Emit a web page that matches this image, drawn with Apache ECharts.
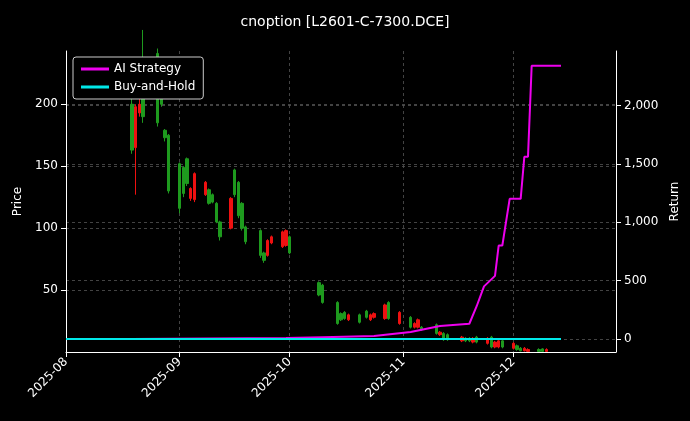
<!DOCTYPE html>
<html><head><meta charset="utf-8">
<script src="https://cdn.jsdelivr.net/npm/echarts@6/dist/echarts.min.js"></script>
<style>html,body{margin:0;background:#000}#c{width:690px;height:421px}</style>
</head><body><div id="c"></div>
<script>
// [date, open, close, low, high]
const candles = [
 ['2025-08-19',163,200,160,215],
 ['2025-08-20',198,165,127,200],
 ['2025-08-21',200,193,190,205],
 ['2025-08-22',190,230,185,260],
 ['2025-08-26',185,241,182,245],
 ['2025-08-27',200,210,198,212],
 ['2025-08-28',173,179,170,180],
 ['2025-08-29',130,175,128,176],
 ['2025-09-01',116,152,112,153],
 ['2025-09-02',128,149,125,150],
 ['2025-09-03',136,156,134,157],
 ['2025-09-04',132,124,122,133],
 ['2025-09-05',144,123,121,145],
 ['2025-09-08',137,127,126,138],
 ['2025-09-09',120,131,119,132],
 ['2025-09-10',121,127,120,128],
 ['2025-09-11',105,120,104,121],
 ['2025-09-12',93,105,90,106],
 ['2025-09-15',124,100,99,125],
 ['2025-09-16',127,147,125,148],
 ['2025-09-17',110,137,108,138],
 ['2025-09-18',100,120,98,121],
 ['2025-09-19',89,101,87,102],
 ['2025-09-23',78,98,76,99],
 ['2025-09-24',74,80,72,81],
 ['2025-09-25',90,78,77,91],
 ['2025-09-26',93,88,87,94],
 ['2025-09-29',97,85,84,98],
 ['2025-09-30',98,86,85,99],
 ['2025-10-01',80,93,79,94],
 ['2025-10-09',46,56,45,57],
 ['2025-10-10',40,54,39,55],
 ['2025-10-14',23,40,22,41],
 ['2025-10-15',26,31,25,32],
 ['2025-10-16',27,32,26,33],
 ['2025-10-17',30,26,25,31],
 ['2025-10-20',24,30,23,31],
 ['2025-10-22',28,33,27,34],
 ['2025-10-23',30,26,25,31],
 ['2025-10-24',31,28,27,32],
 ['2025-10-27',38,27,26,39],
 ['2025-10-28',27,40,26,41],
 ['2025-10-31',32,23,22,33],
 ['2025-11-03',20,28,19,29],
 ['2025-11-04',23,20,19,24],
 ['2025-11-05',26,20,19,27],
 ['2025-11-06',18,20,17,21],
 ['2025-11-10',15,22,14,23],
 ['2025-11-11',16,14,13,17],
 ['2025-11-12',10,15,9,16],
 ['2025-11-13',10,14,9,15],
 ['2025-11-17',12,9,8,13],
 ['2025-11-18',9,11,8,12],
 ['2025-11-19',9,11,8,12],
 ['2025-11-20',11,8,7,12],
 ['2025-11-21',8,12,7,13],
 ['2025-11-24',11,7,6,12],
 ['2025-11-25',4,12,3,13],
 ['2025-11-26',8,4,3,9],
 ['2025-11-27',9,4,3,10],
 ['2025-11-28',4,9,3,10],
 ['2025-12-01',7,3,2,8],
 ['2025-12-02',2,5,1,6],
 ['2025-12-03',1,3,0.5,4],
 ['2025-12-04',3,1,0.5,4],
 ['2025-12-05',2,0.5,0.3,3],
 ['2025-12-08',0.5,2,0.3,3],
 ['2025-12-09',0.5,2.5,0.3,3],
 ['2025-12-10',2,0.5,0.3,3]
];
const strategy = [
 ['2025-08-01',0],['2025-08-19',0],['2025-09-30',8],['2025-10-10',15],['2025-10-24',25],
 ['2025-11-03',60],['2025-11-11',110],['2025-11-19',130],['2025-11-21',280],['2025-11-23',450],
 ['2025-11-26',540],['2025-11-27',800],['2025-11-28',800],['2025-11-30',1200],['2025-12-03',1200],
 ['2025-12-04',1560],['2025-12-05',1560],['2025-12-06',2340],['2025-12-14',2340]
];
const buyHold = [['2025-08-01',0],['2025-12-14',0]];
const monthTicks = ['2025-08-01','2025-09-01','2025-10-01','2025-11-01','2025-12-01'];
const priceTicks = [50,100,150,200];
const returnTicks = [0,500,1000,1500,2000];

const ts = s => +new Date(s + 'T00:00:00Z');
const grid = {lineStyle:{color:'#555',type:[3,3],width:0.8}};
const chart = echarts.init(document.getElementById('c'));
chart.setOption({
 backgroundColor:'#000',
 animation:false,
 title:{text:'cnoption [L2601-C-7300.DCE]',left:'center',top:10,textStyle:{color:'#fff',fontSize:14,fontWeight:'normal',fontFamily:'DejaVu Sans'}},
 grid:{left:66,right:74,top:51,bottom:69},
 legend:{orient:'vertical',left:73,top:57,padding:[6,8],itemGap:6,itemWidth:28,itemHeight:3,icon:'rect',
   backgroundColor:'#000',borderColor:'#ccc',borderWidth:1,borderRadius:3,
   textStyle:{color:'#fff',fontSize:12,fontFamily:'DejaVu Sans'},data:['AI Strategy','Buy-and-Hold']},
 xAxis:{type:'value',min:ts('2025-08-01'),max:ts('2025-12-29'),scale:true,
   axisLine:{lineStyle:{color:'#fff'}},
   axisTick:{show:true,customValues:monthTicks.map(ts),lineStyle:{color:'#fff'}},
   axisLabel:{customValues:monthTicks.map(ts),rotate:45,color:'#fff',fontSize:12,fontFamily:'DejaVu Sans',
     formatter:v=>{const d=new Date(v);return d.getUTCFullYear()+'-'+String(d.getUTCMonth()+1).padStart(2,'0');}},
   splitLine:{show:true,...grid}},
 yAxis:[
  {type:'value',min:0,max:243,name:'Price',nameLocation:'middle',nameGap:38,
   nameTextStyle:{color:'#fff',fontSize:12,fontFamily:'DejaVu Sans'},
   axisLine:{show:true,lineStyle:{color:'#fff'}},
   axisTick:{show:true,customValues:priceTicks,lineStyle:{color:'#fff'}},
   axisLabel:{customValues:priceTicks,color:'#fff',fontSize:12,fontFamily:'DejaVu Sans'},
   splitLine:{show:true,...grid}},
  {type:'value',min:-112,max:2466,name:'Return',nameLocation:'middle',nameGap:48,
   nameTextStyle:{color:'#fff',fontSize:12,fontFamily:'DejaVu Sans'},
   axisLine:{show:true,lineStyle:{color:'#fff'}},
   axisTick:{show:true,customValues:returnTicks,lineStyle:{color:'#fff'}},
   axisLabel:{customValues:returnTicks,color:'#fff',fontSize:12,fontFamily:'DejaVu Sans'},
   splitLine:{show:true,...grid}}
 ],
 series:[
  {type:'candlestick',yAxisIndex:0,barWidth:3,
   data:candles.map(c=>[ts(c[0]),c[1],c[2],c[3],c[4]]),
   itemStyle:{color:'#1e9a1e',color0:'#ee1111',borderColor:'#1e9a1e',borderColor0:'#ee1111',borderWidth:1}},
  {name:'AI Strategy',type:'line',yAxisIndex:1,showSymbol:false,color:'#ee00ee',lineStyle:{width:2},
   data:strategy.map(p=>[ts(p[0]),p[1]])},
  {name:'Buy-and-Hold',type:'line',yAxisIndex:1,showSymbol:false,color:'#00e8e8',lineStyle:{width:2},
   data:buyHold.map(p=>[ts(p[0]),p[1]])}
 ]
});
</script></body></html>
